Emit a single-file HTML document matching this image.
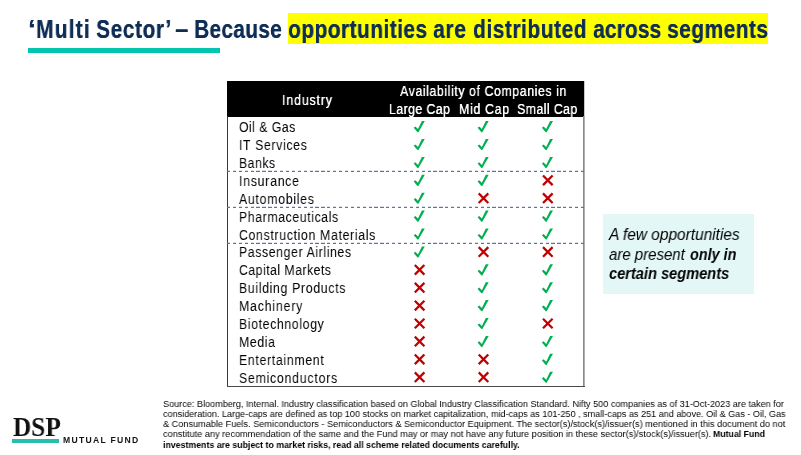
<!DOCTYPE html>
<html><head><meta charset="utf-8"><style>
html,body{margin:0;padding:0;}
body{width:801px;height:455px;overflow:hidden;background:#fff;position:relative;font-family:"Liberation Sans",sans-serif;}
.a{position:absolute;white-space:nowrap;}
.n{display:inline-block;transform-origin:0 0;will-change:transform;}
.nw{will-change:auto !important;}
.mk{position:absolute;overflow:visible;}
</style></head><body>
<div class="a" style="left:288.2px;top:13.3px;width:480.3px;height:31.2px;background:#ffff00"></div>
<div class="a" style="left:27.91px;top:17.41px;font-size:25.5px;line-height:25.5px;font-weight:bold;font-style:normal;color:#0f2e55;text-shadow:0.3px 0 0 #0f2e55;"><span class="n" style="transform:scaleX(1.0626)">‘</span></div>
<div class="a" style="left:35.50px;top:17.41px;font-size:25.5px;line-height:25.5px;font-weight:bold;font-style:normal;color:#0f2e55;text-shadow:0.3px 0 0 #0f2e55;"><span class="n" style="transform:scaleX(0.8200);letter-spacing:1.435px">Multi</span></div>
<div class="a" style="left:95.60px;top:17.41px;font-size:25.5px;line-height:25.5px;font-weight:bold;font-style:normal;color:#0f2e55;text-shadow:0.3px 0 0 #0f2e55;"><span class="n" style="transform:scaleX(0.8200);letter-spacing:0.678px">Sector’</span></div>
<div class="a" style="left:175.18px;top:17.41px;font-size:25.5px;line-height:25.5px;font-weight:bold;font-style:normal;color:#0f2e55;text-shadow:0.3px 0 0 #0f2e55;"><span class="n" style="transform:scaleX(0.9267)">–</span></div>
<div class="a" style="left:194.00px;top:17.41px;font-size:25.5px;line-height:25.5px;font-weight:bold;font-style:normal;color:#0f2e55;text-shadow:0.3px 0 0 #0f2e55;"><span class="n" style="transform:scaleX(0.8200);letter-spacing:0.344px">Because</span></div>
<div class="a" style="left:288.08px;top:17.41px;font-size:25.5px;line-height:25.5px;font-weight:bold;font-style:normal;color:#0f2e55;text-shadow:0.3px 0 0 #0f2e55;"><span class="n" style="transform:scaleX(0.8200);letter-spacing:0.548px">opportunities</span></div>
<div class="a" style="left:433.09px;top:17.41px;font-size:25.5px;line-height:25.5px;font-weight:bold;font-style:normal;color:#0f2e55;text-shadow:0.3px 0 0 #0f2e55;"><span class="n" style="transform:scaleX(0.8200);letter-spacing:0.873px">are</span></div>
<div class="a" style="left:473.14px;top:17.41px;font-size:25.5px;line-height:25.5px;font-weight:bold;font-style:normal;color:#0f2e55;text-shadow:0.3px 0 0 #0f2e55;"><span class="n" style="transform:scaleX(0.8200);letter-spacing:0.659px">distributed</span></div>
<div class="a" style="left:592.69px;top:17.41px;font-size:25.5px;line-height:25.5px;font-weight:bold;font-style:normal;color:#0f2e55;text-shadow:0.3px 0 0 #0f2e55;"><span class="n" style="transform:scaleX(0.8200);letter-spacing:0.157px">across</span></div>
<div class="a" style="left:667.26px;top:17.41px;font-size:25.5px;line-height:25.5px;font-weight:bold;font-style:normal;color:#0f2e55;text-shadow:0.3px 0 0 #0f2e55;"><span class="n" style="transform:scaleX(0.8200);letter-spacing:0.571px">segments</span></div>
<div class="a" style="left:28px;top:48px;width:192px;height:5px;background:#02c4af"></div>
<div class="a" style="left:227px;top:81.2px;width:357.2px;height:35.6px;background:#000"></div>
<div class="a" style="left:584.2px;top:81.2px;width:0.8px;height:35.6px;background:#c8c8c8"></div>
<div class="a" style="left:227px;top:116px;width:1px;height:270.5px;background:#3a3a3a"></div>
<div class="a" style="left:583px;top:116px;width:1px;height:270.5px;background:#8a8a8a"></div>
<div class="a" style="left:584px;top:116px;width:1px;height:270.5px;background:#b0b0b0"></div>
<div class="a" style="left:227px;top:385.6px;width:358px;height:1.2px;background:#4a4a4a"></div>
<div class="a" style="left:281.86px;top:92.16px;font-size:15.4px;line-height:15.4px;font-weight:normal;font-style:normal;color:#fff;text-shadow:0.3px 0 0 #fff;"><span class="n" style="transform:scaleX(0.8000);letter-spacing:1.078px">Industry</span></div>
<div class="a" style="left:400.48px;top:82.96px;font-size:15.4px;line-height:15.4px;font-weight:normal;font-style:normal;color:#fff;text-shadow:0.3px 0 0 #fff;"><span class="n" style="transform:scaleX(0.8000);letter-spacing:0.736px">Availability of Companies in</span></div>
<div class="a" style="left:388.89px;top:100.56px;font-size:15.4px;line-height:15.4px;font-weight:normal;font-style:normal;color:#fff;text-shadow:0.3px 0 0 #fff;"><span class="n" style="transform:scaleX(0.8000);letter-spacing:0.515px">Large Cap</span></div>
<div class="a" style="left:458.79px;top:100.56px;font-size:15.4px;line-height:15.4px;font-weight:normal;font-style:normal;color:#fff;text-shadow:0.3px 0 0 #fff;"><span class="n" style="transform:scaleX(0.8000);letter-spacing:0.865px">Mid Cap</span></div>
<div class="a" style="left:517.34px;top:100.56px;font-size:15.4px;line-height:15.4px;font-weight:normal;font-style:normal;color:#fff;text-shadow:0.3px 0 0 #fff;"><span class="n" style="transform:scaleX(0.8000);letter-spacing:0.523px">Small Cap</span></div>
<div class="a" style="left:227px;top:171px;width:357px;height:1px;background:repeating-linear-gradient(90deg,#5a749e 0 3.2px,transparent 3.2px 5.9px)"></div>
<div class="a" style="left:227px;top:170px;width:357px;height:1px;opacity:0.22;background:repeating-linear-gradient(90deg,#5a749e 0 3.2px,transparent 3.2px 5.9px)"></div>
<div class="a" style="left:227px;top:207px;width:357px;height:1px;background:repeating-linear-gradient(90deg,#5a749e 0 3.2px,transparent 3.2px 5.9px)"></div>
<div class="a" style="left:227px;top:206px;width:357px;height:1px;opacity:0.22;background:repeating-linear-gradient(90deg,#5a749e 0 3.2px,transparent 3.2px 5.9px)"></div>
<div class="a" style="left:227px;top:243px;width:357px;height:1px;background:repeating-linear-gradient(90deg,#5a749e 0 3.2px,transparent 3.2px 5.9px)"></div>
<div class="a" style="left:227px;top:242px;width:357px;height:1px;opacity:0.22;background:repeating-linear-gradient(90deg,#5a749e 0 3.2px,transparent 3.2px 5.9px)"></div>
<div class="a" style="left:239.32px;top:119.11px;font-size:15.4px;line-height:15.4px;font-weight:normal;font-style:normal;color:#000;"><span class="n" style="transform:scaleX(0.8000);letter-spacing:0.565px">Oil &amp; Gas</span></div>
<svg class="mk" style="left:413px;top:120px" width="14" height="14" viewBox="0 0 14 14"><g transform="translate(0.20,0.90)"><path d="M0.5 6.9 L2.1 5.6 L4.8 8.2 L8.7 0.2 L11.6 0.2 L5.2 11.3 L4.3 11.3 Z" fill="#00b050"/></g></svg>
<svg class="mk" style="left:477px;top:120px" width="14" height="14" viewBox="0 0 14 14"><g transform="translate(0.10,0.90)"><path d="M0.5 6.9 L2.1 5.6 L4.8 8.2 L8.7 0.2 L11.6 0.2 L5.2 11.3 L4.3 11.3 Z" fill="#00b050"/></g></svg>
<svg class="mk" style="left:541px;top:120px" width="14" height="14" viewBox="0 0 14 14"><g transform="translate(0.40,0.90)"><path d="M0.5 6.9 L2.1 5.6 L4.8 8.2 L8.7 0.2 L11.6 0.2 L5.2 11.3 L4.3 11.3 Z" fill="#00b050"/></g></svg>
<div class="a" style="left:238.76px;top:137.01px;font-size:15.4px;line-height:15.4px;font-weight:normal;font-style:normal;color:#000;"><span class="n" style="transform:scaleX(0.8000);letter-spacing:0.824px">IT Services</span></div>
<svg class="mk" style="left:413px;top:138px" width="14" height="14" viewBox="0 0 14 14"><g transform="translate(0.20,0.80)"><path d="M0.5 6.9 L2.1 5.6 L4.8 8.2 L8.7 0.2 L11.6 0.2 L5.2 11.3 L4.3 11.3 Z" fill="#00b050"/></g></svg>
<svg class="mk" style="left:477px;top:138px" width="14" height="14" viewBox="0 0 14 14"><g transform="translate(0.10,0.80)"><path d="M0.5 6.9 L2.1 5.6 L4.8 8.2 L8.7 0.2 L11.6 0.2 L5.2 11.3 L4.3 11.3 Z" fill="#00b050"/></g></svg>
<svg class="mk" style="left:541px;top:138px" width="14" height="14" viewBox="0 0 14 14"><g transform="translate(0.40,0.80)"><path d="M0.5 6.9 L2.1 5.6 L4.8 8.2 L8.7 0.2 L11.6 0.2 L5.2 11.3 L4.3 11.3 Z" fill="#00b050"/></g></svg>
<div class="a" style="left:238.89px;top:154.91px;font-size:15.4px;line-height:15.4px;font-weight:normal;font-style:normal;color:#000;"><span class="n" style="transform:scaleX(0.8000);letter-spacing:0.598px">Banks</span></div>
<svg class="mk" style="left:413px;top:156px" width="14" height="14" viewBox="0 0 14 14"><g transform="translate(0.20,0.70)"><path d="M0.5 6.9 L2.1 5.6 L4.8 8.2 L8.7 0.2 L11.6 0.2 L5.2 11.3 L4.3 11.3 Z" fill="#00b050"/></g></svg>
<svg class="mk" style="left:477px;top:156px" width="14" height="14" viewBox="0 0 14 14"><g transform="translate(0.10,0.70)"><path d="M0.5 6.9 L2.1 5.6 L4.8 8.2 L8.7 0.2 L11.6 0.2 L5.2 11.3 L4.3 11.3 Z" fill="#00b050"/></g></svg>
<svg class="mk" style="left:541px;top:156px" width="14" height="14" viewBox="0 0 14 14"><g transform="translate(0.40,0.70)"><path d="M0.5 6.9 L2.1 5.6 L4.8 8.2 L8.7 0.2 L11.6 0.2 L5.2 11.3 L4.3 11.3 Z" fill="#00b050"/></g></svg>
<div class="a" style="left:238.76px;top:172.81px;font-size:15.4px;line-height:15.4px;font-weight:normal;font-style:normal;color:#000;"><span class="n" style="transform:scaleX(0.8000);letter-spacing:0.934px">Insurance</span></div>
<svg class="mk" style="left:413px;top:174px" width="14" height="14" viewBox="0 0 14 14"><g transform="translate(0.20,0.60)"><path d="M0.5 6.9 L2.1 5.6 L4.8 8.2 L8.7 0.2 L11.6 0.2 L5.2 11.3 L4.3 11.3 Z" fill="#00b050"/></g></svg>
<svg class="mk" style="left:477px;top:174px" width="14" height="14" viewBox="0 0 14 14"><g transform="translate(0.10,0.60)"><path d="M0.5 6.9 L2.1 5.6 L4.8 8.2 L8.7 0.2 L11.6 0.2 L5.2 11.3 L4.3 11.3 Z" fill="#00b050"/></g></svg>
<svg class="mk" style="left:541px;top:174px" width="14" height="14" viewBox="0 0 14 14"><g transform="translate(0.80,0.30)"><path d="M1.2 1.2 L10.8 10.8 M10.8 1.2 L1.2 10.8" stroke="#c00000" stroke-width="2.25" fill="none"/></g></svg>
<div class="a" style="left:239.18px;top:190.71px;font-size:15.4px;line-height:15.4px;font-weight:normal;font-style:normal;color:#000;"><span class="n" style="transform:scaleX(0.8000);letter-spacing:0.897px">Automobiles</span></div>
<svg class="mk" style="left:413px;top:192px" width="14" height="14" viewBox="0 0 14 14"><g transform="translate(0.20,0.50)"><path d="M0.5 6.9 L2.1 5.6 L4.8 8.2 L8.7 0.2 L11.6 0.2 L5.2 11.3 L4.3 11.3 Z" fill="#00b050"/></g></svg>
<svg class="mk" style="left:477px;top:192px" width="14" height="14" viewBox="0 0 14 14"><g transform="translate(0.50,0.20)"><path d="M1.2 1.2 L10.8 10.8 M10.8 1.2 L1.2 10.8" stroke="#c00000" stroke-width="2.25" fill="none"/></g></svg>
<svg class="mk" style="left:541px;top:192px" width="14" height="14" viewBox="0 0 14 14"><g transform="translate(0.80,0.20)"><path d="M1.2 1.2 L10.8 10.8 M10.8 1.2 L1.2 10.8" stroke="#c00000" stroke-width="2.25" fill="none"/></g></svg>
<div class="a" style="left:238.89px;top:208.61px;font-size:15.4px;line-height:15.4px;font-weight:normal;font-style:normal;color:#000;"><span class="n" style="transform:scaleX(0.8000);letter-spacing:0.731px">Pharmaceuticals</span></div>
<svg class="mk" style="left:413px;top:210px" width="14" height="14" viewBox="0 0 14 14"><g transform="translate(0.20,0.40)"><path d="M0.5 6.9 L2.1 5.6 L4.8 8.2 L8.7 0.2 L11.6 0.2 L5.2 11.3 L4.3 11.3 Z" fill="#00b050"/></g></svg>
<svg class="mk" style="left:477px;top:210px" width="14" height="14" viewBox="0 0 14 14"><g transform="translate(0.10,0.40)"><path d="M0.5 6.9 L2.1 5.6 L4.8 8.2 L8.7 0.2 L11.6 0.2 L5.2 11.3 L4.3 11.3 Z" fill="#00b050"/></g></svg>
<svg class="mk" style="left:541px;top:210px" width="14" height="14" viewBox="0 0 14 14"><g transform="translate(0.40,0.40)"><path d="M0.5 6.9 L2.1 5.6 L4.8 8.2 L8.7 0.2 L11.6 0.2 L5.2 11.3 L4.3 11.3 Z" fill="#00b050"/></g></svg>
<div class="a" style="left:239.27px;top:226.51px;font-size:15.4px;line-height:15.4px;font-weight:normal;font-style:normal;color:#000;"><span class="n" style="transform:scaleX(0.8000);letter-spacing:0.822px">Construction Materials</span></div>
<svg class="mk" style="left:413px;top:228px" width="14" height="14" viewBox="0 0 14 14"><g transform="translate(0.20,0.30)"><path d="M0.5 6.9 L2.1 5.6 L4.8 8.2 L8.7 0.2 L11.6 0.2 L5.2 11.3 L4.3 11.3 Z" fill="#00b050"/></g></svg>
<svg class="mk" style="left:477px;top:228px" width="14" height="14" viewBox="0 0 14 14"><g transform="translate(0.10,0.30)"><path d="M0.5 6.9 L2.1 5.6 L4.8 8.2 L8.7 0.2 L11.6 0.2 L5.2 11.3 L4.3 11.3 Z" fill="#00b050"/></g></svg>
<svg class="mk" style="left:541px;top:228px" width="14" height="14" viewBox="0 0 14 14"><g transform="translate(0.40,0.30)"><path d="M0.5 6.9 L2.1 5.6 L4.8 8.2 L8.7 0.2 L11.6 0.2 L5.2 11.3 L4.3 11.3 Z" fill="#00b050"/></g></svg>
<div class="a" style="left:238.89px;top:244.41px;font-size:15.4px;line-height:15.4px;font-weight:normal;font-style:normal;color:#000;"><span class="n" style="transform:scaleX(0.8000);letter-spacing:0.744px">Passenger Airlines</span></div>
<svg class="mk" style="left:413px;top:246px" width="14" height="14" viewBox="0 0 14 14"><g transform="translate(0.20,0.20)"><path d="M0.5 6.9 L2.1 5.6 L4.8 8.2 L8.7 0.2 L11.6 0.2 L5.2 11.3 L4.3 11.3 Z" fill="#00b050"/></g></svg>
<svg class="mk" style="left:477px;top:245px" width="14" height="14" viewBox="0 0 14 14"><g transform="translate(0.50,0.90)"><path d="M1.2 1.2 L10.8 10.8 M10.8 1.2 L1.2 10.8" stroke="#c00000" stroke-width="2.25" fill="none"/></g></svg>
<svg class="mk" style="left:541px;top:245px" width="14" height="14" viewBox="0 0 14 14"><g transform="translate(0.80,0.90)"><path d="M1.2 1.2 L10.8 10.8 M10.8 1.2 L1.2 10.8" stroke="#c00000" stroke-width="2.25" fill="none"/></g></svg>
<div class="a" style="left:239.27px;top:262.31px;font-size:15.4px;line-height:15.4px;font-weight:normal;font-style:normal;color:#000;"><span class="n" style="transform:scaleX(0.8000);letter-spacing:0.579px">Capital Markets</span></div>
<svg class="mk" style="left:413px;top:263px" width="14" height="14" viewBox="0 0 14 14"><g transform="translate(0.60,0.80)"><path d="M1.2 1.2 L10.8 10.8 M10.8 1.2 L1.2 10.8" stroke="#c00000" stroke-width="2.25" fill="none"/></g></svg>
<svg class="mk" style="left:477px;top:264px" width="14" height="14" viewBox="0 0 14 14"><g transform="translate(0.10,0.10)"><path d="M0.5 6.9 L2.1 5.6 L4.8 8.2 L8.7 0.2 L11.6 0.2 L5.2 11.3 L4.3 11.3 Z" fill="#00b050"/></g></svg>
<svg class="mk" style="left:541px;top:264px" width="14" height="14" viewBox="0 0 14 14"><g transform="translate(0.40,0.10)"><path d="M0.5 6.9 L2.1 5.6 L4.8 8.2 L8.7 0.2 L11.6 0.2 L5.2 11.3 L4.3 11.3 Z" fill="#00b050"/></g></svg>
<div class="a" style="left:238.89px;top:280.21px;font-size:15.4px;line-height:15.4px;font-weight:normal;font-style:normal;color:#000;"><span class="n" style="transform:scaleX(0.8000);letter-spacing:0.826px">Building Products</span></div>
<svg class="mk" style="left:413px;top:281px" width="14" height="14" viewBox="0 0 14 14"><g transform="translate(0.60,0.70)"><path d="M1.2 1.2 L10.8 10.8 M10.8 1.2 L1.2 10.8" stroke="#c00000" stroke-width="2.25" fill="none"/></g></svg>
<svg class="mk" style="left:477px;top:281px" width="14" height="14" viewBox="0 0 14 14"><g transform="translate(0.10,1.00)"><path d="M0.5 6.9 L2.1 5.6 L4.8 8.2 L8.7 0.2 L11.6 0.2 L5.2 11.3 L4.3 11.3 Z" fill="#00b050"/></g></svg>
<svg class="mk" style="left:541px;top:281px" width="14" height="14" viewBox="0 0 14 14"><g transform="translate(0.40,1.00)"><path d="M0.5 6.9 L2.1 5.6 L4.8 8.2 L8.7 0.2 L11.6 0.2 L5.2 11.3 L4.3 11.3 Z" fill="#00b050"/></g></svg>
<div class="a" style="left:238.89px;top:298.11px;font-size:15.4px;line-height:15.4px;font-weight:normal;font-style:normal;color:#000;"><span class="n" style="transform:scaleX(0.8000);letter-spacing:1.032px">Machinery</span></div>
<svg class="mk" style="left:413px;top:299px" width="14" height="14" viewBox="0 0 14 14"><g transform="translate(0.60,0.60)"><path d="M1.2 1.2 L10.8 10.8 M10.8 1.2 L1.2 10.8" stroke="#c00000" stroke-width="2.25" fill="none"/></g></svg>
<svg class="mk" style="left:477px;top:299px" width="14" height="14" viewBox="0 0 14 14"><g transform="translate(0.10,0.90)"><path d="M0.5 6.9 L2.1 5.6 L4.8 8.2 L8.7 0.2 L11.6 0.2 L5.2 11.3 L4.3 11.3 Z" fill="#00b050"/></g></svg>
<svg class="mk" style="left:541px;top:299px" width="14" height="14" viewBox="0 0 14 14"><g transform="translate(0.40,0.90)"><path d="M0.5 6.9 L2.1 5.6 L4.8 8.2 L8.7 0.2 L11.6 0.2 L5.2 11.3 L4.3 11.3 Z" fill="#00b050"/></g></svg>
<div class="a" style="left:238.89px;top:316.01px;font-size:15.4px;line-height:15.4px;font-weight:normal;font-style:normal;color:#000;"><span class="n" style="transform:scaleX(0.8000);letter-spacing:0.775px">Biotechnology</span></div>
<svg class="mk" style="left:413px;top:317px" width="14" height="14" viewBox="0 0 14 14"><g transform="translate(0.60,0.50)"><path d="M1.2 1.2 L10.8 10.8 M10.8 1.2 L1.2 10.8" stroke="#c00000" stroke-width="2.25" fill="none"/></g></svg>
<svg class="mk" style="left:477px;top:317px" width="14" height="14" viewBox="0 0 14 14"><g transform="translate(0.10,0.80)"><path d="M0.5 6.9 L2.1 5.6 L4.8 8.2 L8.7 0.2 L11.6 0.2 L5.2 11.3 L4.3 11.3 Z" fill="#00b050"/></g></svg>
<svg class="mk" style="left:541px;top:317px" width="14" height="14" viewBox="0 0 14 14"><g transform="translate(0.80,0.50)"><path d="M1.2 1.2 L10.8 10.8 M10.8 1.2 L1.2 10.8" stroke="#c00000" stroke-width="2.25" fill="none"/></g></svg>
<div class="a" style="left:238.89px;top:333.91px;font-size:15.4px;line-height:15.4px;font-weight:normal;font-style:normal;color:#000;"><span class="n" style="transform:scaleX(0.8000);letter-spacing:0.767px">Media</span></div>
<svg class="mk" style="left:413px;top:335px" width="14" height="14" viewBox="0 0 14 14"><g transform="translate(0.60,0.40)"><path d="M1.2 1.2 L10.8 10.8 M10.8 1.2 L1.2 10.8" stroke="#c00000" stroke-width="2.25" fill="none"/></g></svg>
<svg class="mk" style="left:477px;top:335px" width="14" height="14" viewBox="0 0 14 14"><g transform="translate(0.10,0.70)"><path d="M0.5 6.9 L2.1 5.6 L4.8 8.2 L8.7 0.2 L11.6 0.2 L5.2 11.3 L4.3 11.3 Z" fill="#00b050"/></g></svg>
<svg class="mk" style="left:541px;top:335px" width="14" height="14" viewBox="0 0 14 14"><g transform="translate(0.40,0.70)"><path d="M0.5 6.9 L2.1 5.6 L4.8 8.2 L8.7 0.2 L11.6 0.2 L5.2 11.3 L4.3 11.3 Z" fill="#00b050"/></g></svg>
<div class="a" style="left:238.89px;top:351.81px;font-size:15.4px;line-height:15.4px;font-weight:normal;font-style:normal;color:#000;"><span class="n" style="transform:scaleX(0.8000);letter-spacing:0.854px">Entertainment</span></div>
<svg class="mk" style="left:413px;top:353px" width="14" height="14" viewBox="0 0 14 14"><g transform="translate(0.60,0.30)"><path d="M1.2 1.2 L10.8 10.8 M10.8 1.2 L1.2 10.8" stroke="#c00000" stroke-width="2.25" fill="none"/></g></svg>
<svg class="mk" style="left:477px;top:353px" width="14" height="14" viewBox="0 0 14 14"><g transform="translate(0.50,0.30)"><path d="M1.2 1.2 L10.8 10.8 M10.8 1.2 L1.2 10.8" stroke="#c00000" stroke-width="2.25" fill="none"/></g></svg>
<svg class="mk" style="left:541px;top:353px" width="14" height="14" viewBox="0 0 14 14"><g transform="translate(0.40,0.60)"><path d="M0.5 6.9 L2.1 5.6 L4.8 8.2 L8.7 0.2 L11.6 0.2 L5.2 11.3 L4.3 11.3 Z" fill="#00b050"/></g></svg>
<div class="a" style="left:239.34px;top:369.71px;font-size:15.4px;line-height:15.4px;font-weight:normal;font-style:normal;color:#000;"><span class="n" style="transform:scaleX(0.8000);letter-spacing:0.949px">Semiconductors</span></div>
<svg class="mk" style="left:413px;top:371px" width="14" height="14" viewBox="0 0 14 14"><g transform="translate(0.60,0.20)"><path d="M1.2 1.2 L10.8 10.8 M10.8 1.2 L1.2 10.8" stroke="#c00000" stroke-width="2.25" fill="none"/></g></svg>
<svg class="mk" style="left:477px;top:371px" width="14" height="14" viewBox="0 0 14 14"><g transform="translate(0.50,0.20)"><path d="M1.2 1.2 L10.8 10.8 M10.8 1.2 L1.2 10.8" stroke="#c00000" stroke-width="2.25" fill="none"/></g></svg>
<svg class="mk" style="left:541px;top:371px" width="14" height="14" viewBox="0 0 14 14"><g transform="translate(0.40,0.50)"><path d="M0.5 6.9 L2.1 5.6 L4.8 8.2 L8.7 0.2 L11.6 0.2 L5.2 11.3 L4.3 11.3 Z" fill="#00b050"/></g></svg>
<div class="a" style="left:603px;top:214px;width:151px;height:79.5px;background:#e2f7f6"></div>
<div class="a" style="left:609.26px;top:227.20px;font-size:16px;line-height:16px;font-weight:normal;font-style:italic;color:#000;"><span class="n" style="transform:scaleX(0.9644)">A few opportunities</span></div>
<div class="a" style="left:609.06px;top:246.95px;font-size:16px;line-height:16px;font-weight:normal;font-style:italic;color:#000;"><span class="n" style="transform:scaleX(0.9367)">are present</span></div>
<div class="a" style="left:690.26px;top:246.95px;font-size:16px;line-height:16px;font-weight:bold;font-style:italic;color:#000;"><span class="n" style="transform:scaleX(0.9010)">only in</span></div>
<div class="a" style="left:609.45px;top:266.45px;font-size:16px;line-height:16px;font-weight:bold;font-style:italic;color:#000;"><span class="n" style="transform:scaleX(0.9129)">certain segments</span></div>
<div class="a" style="left:163.29px;top:398.97px;font-size:9.6px;line-height:9.6px;font-weight:normal;font-style:normal;color:#000;"><span class="n" style="transform:scaleX(0.9489)">Source: Bloomberg, Internal. Industry classification based on Global Industry Classification Standard. Nifty 500 companies as of 31-Oct-2023 are taken for</span></div>
<div class="a" style="left:163.31px;top:408.97px;font-size:9.6px;line-height:9.6px;font-weight:normal;font-style:normal;color:#000;"><span class="n" style="transform:scaleX(0.9446)">consideration. Large-caps are defined as top 100 stocks on market capitalization, mid-caps as 101-250 , small-caps as 251 and above. Oil &amp; Gas - Oil, Gas</span></div>
<div class="a" style="left:163.38px;top:418.97px;font-size:9.6px;line-height:9.6px;font-weight:normal;font-style:normal;color:#000;"><span class="n" style="transform:scaleX(0.9553)">&amp; Consumable Fuels. Semiconductors - Semiconductors &amp; Semiconductor Equipment. The sector(s)/stock(s)/issuer(s) mentioned in this document do not</span></div>
<div class="a" style="left:163.31px;top:428.97px;font-size:9.6px;line-height:9.6px;font-weight:normal;font-style:normal;color:#000;"><span class="n" style="transform:scaleX(0.9563)">constitute any recommendation of the same and the Fund may or may not have any future position in these sector(s)/stock(s)/issuer(s).</span></div>
<div class="a" style="left:713.42px;top:428.97px;font-size:9.6px;line-height:9.6px;font-weight:bold;font-style:normal;color:#000;"><span class="n" style="transform:scaleX(0.9108)">Mutual Fund</span></div>
<div class="a" style="left:163.09px;top:440.07px;font-size:9.6px;line-height:9.6px;font-weight:bold;font-style:normal;color:#000;"><span class="n" style="transform:scaleX(0.9154)">investments are subject to market risks, read all scheme related documents carefully.</span></div>
<div class="a" style="left:12.96px;top:412.97px;font-size:27.5px;line-height:27.5px;font-weight:bold;font-style:normal;color:#111;font-family:'Liberation Serif',serif;"><span class="n" style="transform:scaleX(0.9193)">DSP</span></div>
<div class="a" style="left:12px;top:439px;width:47px;height:4px;background:#26bfad"></div>
<div class="a" style="left:63.02px;top:436.22px;font-size:8.6px;line-height:8.6px;font-weight:bold;letter-spacing:1.291px;color:#151515">MUTUAL FUND</div>
</body></html>
